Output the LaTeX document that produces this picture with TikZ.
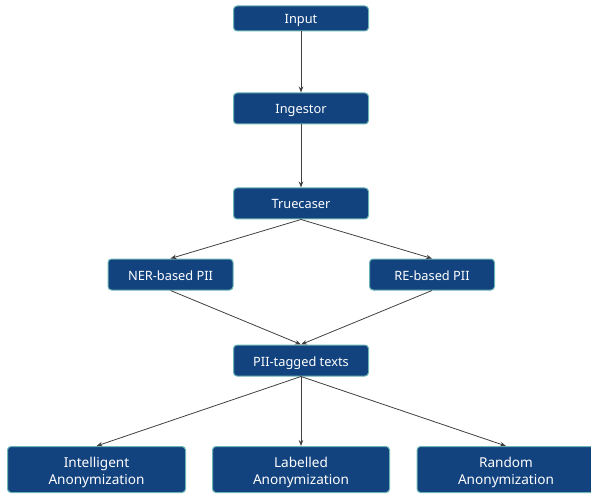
\documentclass[tikz,border=0pt]{standalone}
\usepackage{fontspec}
\setmainfont{Noto Sans}
\usetikzlibrary{arrows.meta}
\definecolor{boxfill}{HTML}{13437F}
\definecolor{boxline}{HTML}{6DB5B5}
\definecolor{arrowc}{HTML}{404040}
\newcommand{\topstrut}{\rule{0pt}{16pt}}
\begin{document}
\begin{tikzpicture}[x=1pt,y=-1pt,
  blk/.style={draw=boxline,fill=boxfill,line width=1pt,rounded corners=3.5pt,
    text=white,inner sep=0pt,align=center,font=\fontsize{12.8}{15}\selectfont},
  oneblk/.style={blk,text height=11pt,text depth=0pt},
  bigblk/.style={blk,font=\fontsize{13.6}{16.5}\selectfont},
  conn/.style={draw=arrowc,line width=0.8pt,-{Stealth[length=6pt,width=4.5pt]}}]
\useasboundingbox (0,0) rectangle (591,494);
\node[oneblk,minimum width=135pt,minimum height=25pt] (input) at (301,18.5) {Input};
\node[oneblk,minimum width=135pt,minimum height=31pt] (ing) at (301,108.5) {Ingestor};
\node[oneblk,minimum width=135pt,minimum height=31pt] (true) at (301,203.5) {Truecaser};
\node[oneblk,minimum width=125pt,minimum height=31pt] (ner) at (170.5,274.5) {NER-based PII};
\node[oneblk,minimum width=125pt,minimum height=31pt] (re) at (432,274.5) {RE-based PII};
\node[oneblk,minimum width=135pt,minimum height=31pt] (pii) at (301,360.5) {PII-tagged texts};
\node[bigblk,minimum width=178pt,minimum height=46pt] (intel) at (96.5,469.5) {\topstrut Intelligent\\Anonymization};
\node[bigblk,minimum width=177pt,minimum height=46pt] (lab) at (301,469.5) {\topstrut Labelled\\Anonymization};
\node[bigblk,minimum width=178pt,minimum height=46pt] (rand) at (506,469.5) {\topstrut Random\\Anonymization};
\draw[conn] (input.south) -- (ing.north);
\draw[conn] (ing.south) -- (true.north);
\draw[conn] (true.south) -- (ner.north);
\draw[conn] (true.south) -- (re.north);
\draw[conn] (ner.south) -- (pii.north);
\draw[conn] (re.south) -- (pii.north);
\draw[conn] (pii.south) -- (intel.north);
\draw[conn] (pii.south) -- (lab.north);
\draw[conn] (pii.south) -- (rand.north);
\end{tikzpicture}
\end{document}
